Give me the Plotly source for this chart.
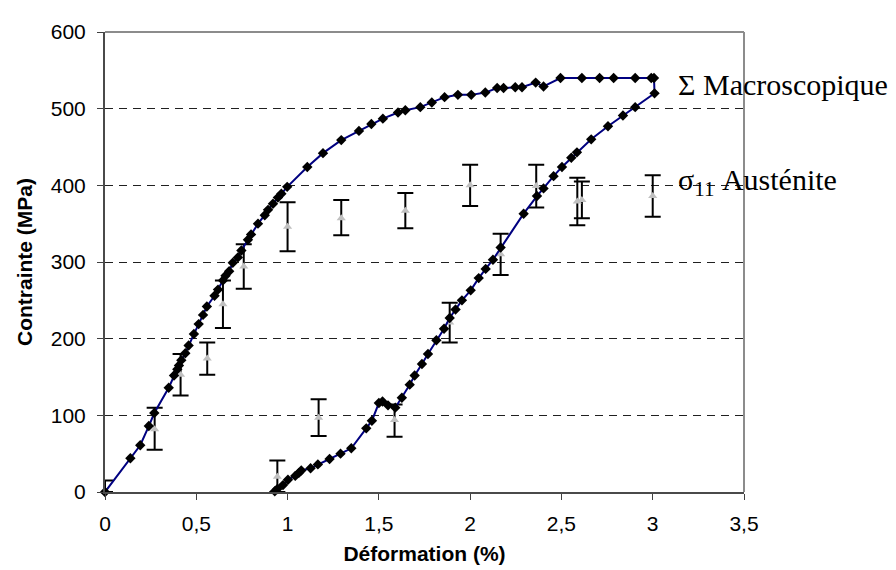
import plotly.graph_objects as go

# Σ Macroscopique curve (loading then unloading)
macro_x = [0, 0.139, 0.193, 0.24, 0.27, 0.349, 0.378, 0.396, 0.405, 0.418, 0.44, 0.458, 0.487,
           0.513, 0.537, 0.558, 0.60, 0.619, 0.646, 0.66, 0.68, 0.70, 0.728, 0.747, 0.783, 0.80,
           0.838, 0.875, 0.893, 0.92, 0.947, 0.966, 0.998, 1.108, 1.194, 1.294, 1.391, 1.459,
           1.522, 1.605, 1.645, 1.727, 1.79, 1.86, 1.933, 2.006, 2.083, 2.148, 2.183, 2.247,
           2.284, 2.359, 2.402, 2.495, 2.612, 2.709, 2.786, 2.904, 2.992, 3.007, 3.01,
           2.904, 2.837, 2.755, 2.663, 2.585, 2.554, 2.503, 2.457, 2.402, 2.366, 2.293, 2.167,
           2.125, 2.085, 2.047, 2.003, 1.955, 1.92, 1.888, 1.857, 1.815, 1.769, 1.736, 1.696,
           1.669, 1.626, 1.59, 1.55, 1.52, 1.50, 1.462, 1.431, 1.349, 1.29, 1.23, 1.166, 1.126,
           1.075, 1.062, 1.042, 1.002, 0.975, 0.944, 0.93]
macro_y = [0, 44, 61, 86, 103, 136, 152, 160, 165, 172, 181, 191, 206,
           219, 231, 242, 256, 264, 276, 282, 288, 299, 306, 315, 329, 336,
           350, 361, 368, 376, 384, 389, 398, 424, 442, 459, 471, 480,
           487, 495, 498, 502, 508, 515, 518, 518, 521, 527, 527, 528,
           528, 534, 529, 540, 540, 540, 540, 540, 540, 540, 520,
           502, 491, 477, 460, 443, 436, 424, 412, 396, 386, 363, 319,
           303, 291, 279, 263, 250, 238, 227, 213, 198, 180, 167, 152,
           140, 123, 110, 113, 118, 116, 93, 83, 57, 50, 43, 36, 31,
           28, 25, 21, 16, 9, 4, 1]

# σ11 Austénite points with error bars
aus_x = [0, 0.272, 0.414, 0.56, 0.646, 0.76, 1.0, 1.294, 1.645, 2.0, 2.362, 2.587, 2.612, 3.0,
         0.944, 1.17, 1.586, 1.888, 2.167]
aus_y = [0, 82, 153, 174, 245, 294, 346, 357, 367, 400, 399, 379, 381, 386,
         20, 97, 94, 221, 310]
aus_err_plus = [15, 28, 27, 21, 31, 29, 32, 24, 23, 27, 28, 31, 24, 27,
                21, 24, 20, 26, 27]
aus_err_minus = [0, 27, 27, 21, 31, 29, 32, 22, 23, 27, 28, 31, 24, 27,
                 20, 24, 22, 26, 27]

x_ticks = [0, 0.5, 1, 1.5, 2, 2.5, 3, 3.5]
x_ticktext = ["0", "0,5", "1", "1,5", "2", "2,5", "3", "3,5"]
y_ticks = [0, 100, 200, 300, 400, 500, 600]

fig = go.Figure()

fig.add_trace(go.Scatter(
    x=aus_x, y=aus_y, mode="markers", name="σ11 Austénite",
    marker=dict(symbol="triangle-up", size=8, color="#c0c0c0"),
    error_y=dict(type="data", symmetric=False, array=aus_err_plus,
                 arrayminus=aus_err_minus, color="black", thickness=2, width=8),
    cliponaxis=False, showlegend=False))

fig.add_trace(go.Scatter(
    x=macro_x, y=macro_y, mode="lines+markers", name="Σ Macroscopique",
    line=dict(color="#000080", width=2),
    marker=dict(symbol="diamond", size=8, color="black"),
    cliponaxis=False, showlegend=False))

fig.add_annotation(x=3.125, y=532, xref="x", yref="y", text="Σ Macroscopique",
                   showarrow=False, xanchor="left", yanchor="middle",
                   font=dict(family="Liberation Serif", size=30, color="black"))
fig.add_annotation(x=3.13, y=405, xref="x", yref="y", text="σ<sub>11</sub> Austénite",
                   showarrow=False, xanchor="left", yanchor="middle",
                   font=dict(family="Liberation Serif", size=30, color="black"))

# plot-area border (top and right) in lighter gray
fig.add_shape(type="line", xref="paper", yref="paper", x0=0, x1=1, y0=1, y1=1,
              line=dict(color="#8c8c8c", width=2), layer="below")
fig.add_shape(type="line", xref="paper", yref="paper", x0=1, x1=1, y0=0, y1=1,
              line=dict(color="#8c8c8c", width=2), layer="below")

fig.update_layout(
    width=896, height=570,
    margin=dict(l=97, r=160, t=18, b=86),
    paper_bgcolor="white", plot_bgcolor="white",
    font=dict(family="Liberation Sans, Arial", color="black"),
    xaxis=dict(range=[0, 3.5], tickvals=x_ticks, ticktext=x_ticktext,
               showgrid=False, zeroline=False, showline=True, mirror=False,
               linecolor="#4a4a4a", linewidth=2, ticks="outside", ticklen=6,
               tickcolor="#404040", tickfont=dict(size=21), ticklabelstandoff=6,
               title=dict(text="<b>Déformation (%)</b>", font=dict(size=21), standoff=12)),
    yaxis=dict(range=[0, 600], tickvals=y_ticks,
               showgrid=True, gridcolor="#202020", gridwidth=1, griddash="8px,6px",
               zeroline=False, showline=True, mirror=False,
               linecolor="#4a4a4a", linewidth=2, ticks="outside", ticklen=6,
               tickcolor="#404040", tickfont=dict(size=21), ticklabelstandoff=7,
               title=dict(text="<b>Contrainte (MPa)</b>", font=dict(size=21), standoff=12)),
)

fig.write_html("out.html")
